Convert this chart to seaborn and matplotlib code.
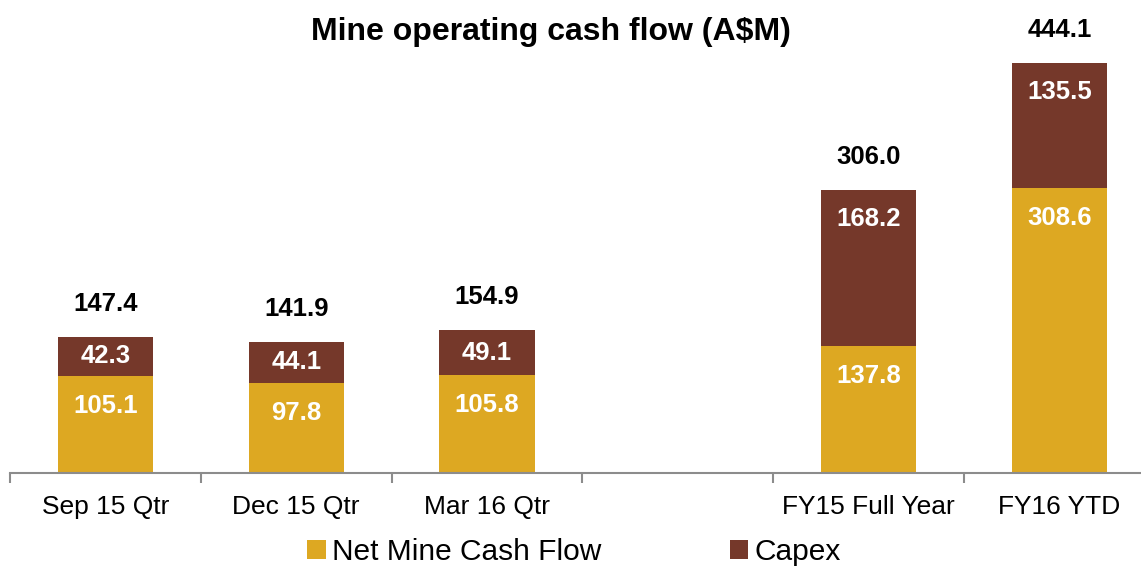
import matplotlib
matplotlib.use("Agg")
import matplotlib.pyplot as plt
import seaborn as sns
import pandas as pd
from matplotlib.patches import Patch

categories = ["Sep 15 Qtr", "Dec 15 Qtr", "Mar 16 Qtr", "FY15 Full Year", "FY16 YTD"]
net_mine_cash_flow = [105.1, 97.8, 105.8, 137.8, 308.6]
capex = [42.3, 44.1, 49.1, 168.2, 135.5]
totals = [147.4, 141.9, 154.9, 306.0, 444.1]
order = ["Sep 15 Qtr", "Dec 15 Qtr", "Mar 16 Qtr", "", "FY15 Full Year", "FY16 YTD"]

GOLD = "#DDA822"
BROWN = "#75382A"

sns.set_theme(style="white")
plt.rcParams["font.family"] = ["Liberation Sans", "DejaVu Sans"]
plt.rcParams["text.color"] = "black"

df = pd.DataFrame({"cat": categories, "net": net_mine_cash_flow,
                   "capex": capex, "total": totals})

fig = plt.figure(figsize=(11.41, 5.67), dpi=100)
ax = fig.add_axes([10 / 1141, 94 / 567, 1145 / 1141, 473 / 567])

sns.barplot(data=df, x="cat", y="total", order=order, color=BROWN,
            saturation=1, width=0.5, ax=ax, errorbar=None, linewidth=0)
sns.barplot(data=df, x="cat", y="net", order=order, color=GOLD,
            saturation=1, width=0.5, ax=ax, errorbar=None, linewidth=0)

ax.set_ylim(0, 512.3)
ax.set_xlim(-0.5, 5.5)
ax.set_xlabel("")
ax.set_ylabel("")
ax.set_yticks([])
for s in ["top", "right", "left"]:
    ax.spines[s].set_visible(False)
ax.spines["bottom"].set_color("#8C8C8C")
ax.spines["bottom"].set_linewidth(1.5)

# boundary ticks (major), labels at centres (minor)
ax.set_xticks([i - 0.5 for i in range(7)])
ax.set_xticklabels([])
ax.tick_params(axis="x", which="major", direction="out", length=7,
               width=1.5, color="#8C8C8C", bottom=True)
ax.set_xticks(list(range(6)), minor=True)
ax.set_xticklabels(order, minor=True, fontsize=19, color="black")
ax.tick_params(axis="x", which="minor", length=0, pad=16)

pos = {c: order.index(c) for c in categories}
for c, n, k, t in zip(categories, net_mine_cash_flow, capex, totals):
    x = pos[c]
    ax.annotate(f"{t:.1f}", (x, t), xytext=(0, 33), textcoords="offset pixels",
                ha="center", va="center", fontsize=18.5, fontweight="bold",
                color="black")
    seg_px = k * 0.9232
    ax.annotate(f"{k:.1f}", (x, t), xytext=(0, -min(29, seg_px / 2)),
                textcoords="offset pixels", ha="center", va="center",
                fontsize=18.5, fontweight="bold", color="white")
    ax.annotate(f"{n:.1f}", (x, n), xytext=(0, -30), textcoords="offset pixels",
                ha="center", va="center", fontsize=18.5, fontweight="bold",
                color="white")

fig.text(551 / 1141, 1 - 32 / 567, "Mine operating cash flow (A$M)",
         ha="center", va="center", fontsize=23, fontweight="bold", color="black")

handles = [Patch(facecolor=GOLD, edgecolor="none", label="Net Mine Cash Flow"),
           Patch(facecolor=BROWN, edgecolor="none", label="Capex")]
leg = fig.legend(handles=handles, loc="lower center",
                 bbox_to_anchor=(574 / 1141, 1 / 567),
                 ncol=2, frameon=False, fontsize=21.5, handlelength=0.62,
                 handleheight=0.62, handletextpad=0.2, columnspacing=4.3,
                 borderpad=0, borderaxespad=0)
for t in leg.get_texts():
    t.set_color("black")

fig.savefig("out.png", dpi=100)
